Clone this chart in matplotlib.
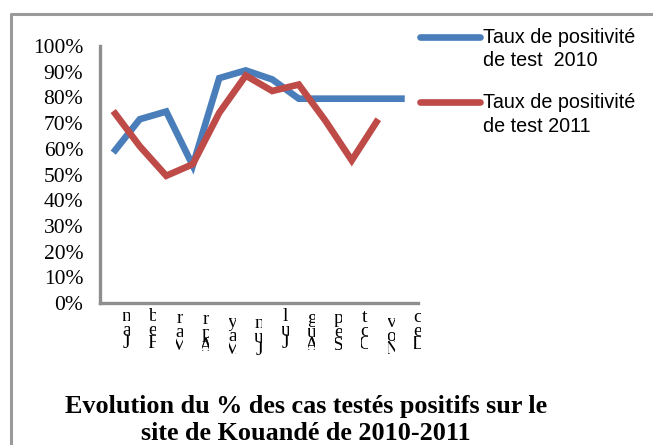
import matplotlib
matplotlib.use("Agg")
import matplotlib.pyplot as plt
from matplotlib.lines import Line2D
from matplotlib.transforms import Bbox, TransformedBbox, blended_transform_factory

# --- data ---
months = ["Jan", "Feb", "Mar", "Apr", "May", "Jun",
          "Jul", "Aug", "Sep", "Oct", "Nov", "Dec"]
taux_2010 = [0.585, 0.715, 0.745, 0.535, 0.875, 0.905,
             0.87, 0.795, 0.795, 0.795, 0.795, 0.795]
taux_2011 = [0.747, 0.61, 0.495, 0.54, 0.74, 0.885,
             0.825, 0.85, 0.71, 0.555, 0.715, None]
label_2010 = "Taux de positivité\nde test  2010"
label_2011 = "Taux de positivité\nde test 2011"
titre = "Evolution du % des cas testés positifs sur le\nsite de Kouandé de 2010-2011"

W, H = 653, 445
blue = "#4a7ebb"
red = "#be4b48"
grey = "#8e8e8e"

fig = plt.figure(figsize=(W / 100, H / 100), dpi=100)
ax = fig.add_axes([100 / W, 1 - 303 / H, 318 / W, 257 / H])

x = [i + 0.5 for i in range(len(months))]
ax.plot(x, taux_2010, color=blue, lw=4.8, solid_capstyle="butt", solid_joinstyle="miter")
x11 = [xi for xi, v in zip(x, taux_2011) if v is not None]
y11 = [v for v in taux_2011 if v is not None]
ax.plot(x11, y11, color=red, lw=4.8, solid_capstyle="butt", solid_joinstyle="miter")

ax.set_xlim(0, 12)
ax.set_ylim(0, 1.0)
ax.set_yticks([i / 10 for i in range(11)])
ax.set_yticklabels([f"{i * 10}%" for i in range(11)],
                   fontfamily="Liberation Serif", fontsize=15.5)
ax.tick_params(axis="y", length=0, pad=12)
ax.set_xticks([])
for s in ["top", "right"]:
    ax.spines[s].set_visible(False)
for s in ["left", "bottom"]:
    ax.spines[s].set_color(grey)
    ax.spines[s].set_linewidth(2.4)

# clipped, stacked month labels (as in the source export)
label_drop = [0, 0, 2, 3, 6, 7, 0, 2, 2, 1, 6, 1]
trans = blended_transform_factory(ax.transData, fig.transFigure)
for xi, m, d in zip(x, months, label_drop):
    t = fig.text(xi + 0.5, 1 - (308 + d) / H, "\n".join(reversed(m)),
                 transform=trans, ha="center", va="top",
                 fontfamily="Liberation Serif", fontsize=14, linespacing=0.74)
    t.set_clip_on(True)
    t.set_clip_box(TransformedBbox(Bbox.from_extents(xi + 0.36, 0, xi + 0.62, 1), trans))

# legend
for y0, col, lab in [(37, blue, label_2010), (102, red, label_2011)]:
    fig.add_artist(Line2D([420 / W, 480 / W], [1 - y0 / H, 1 - y0 / H],
                          color=col, lw=4.8, solid_capstyle="round"))
    fig.text(483 / W, 1 - (y0 - 9) / H, lab, ha="left", va="top",
             fontfamily="Liberation Sans", fontsize=14.2, linespacing=1.3)

# outer frame
fig.add_artist(Line2D([11 / W, 11 / W, 1], [1 - 443 / H, 1 - 14 / H, 1 - 14 / H],
                      color="#9a9a9a", lw=2.2))

fig.text(306 / W, 1 - 420 / H, titre, ha="center", va="center", ma="center",
         fontfamily="Liberation Serif", fontweight="bold", fontsize=18.8, linespacing=1.2)

fig.savefig("out.png", dpi=100)
